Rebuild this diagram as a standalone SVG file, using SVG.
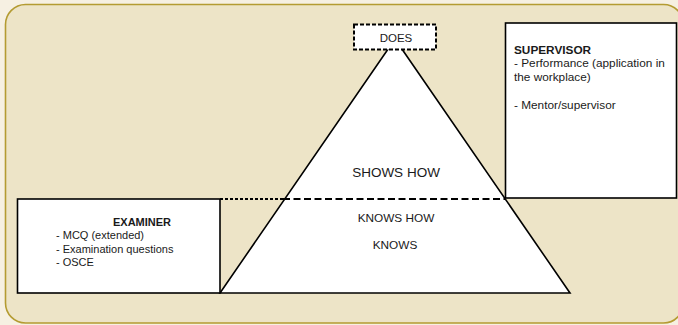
<svg xmlns="http://www.w3.org/2000/svg" width="678" height="325" viewBox="0 0 678 325">
  <style>
    text { font-family: "Liberation Sans", Arial, sans-serif; fill: #1a1a1a; }
    .box { fill: #ffffff; stroke: #000000; stroke-width: 1.6; }
    .b { font-weight: bold; }
    .lvl { text-anchor: middle; }
  </style>
  <rect x="0" y="0" width="678" height="325" fill="#f6f0e2"/>
  <rect id="frame" x="5.5" y="4.5" width="678" height="318.5" rx="20" ry="20" fill="#ede4c7" stroke="#b49b32" stroke-width="1.6"/>

  <g id="pyramid">
    <polygon points="395,39 220,293 570,293" fill="#ffffff" stroke="#000000" stroke-width="1.6" stroke-linejoin="miter"/>
    <text class="lvl" x="396" y="177" font-size="13.5">SHOWS HOW</text>
    <text class="lvl" x="396" y="222" font-size="11.8">KNOWS HOW</text>
    <text class="lvl" x="395" y="249" font-size="11.8">KNOWS</text>
  </g>

  <g id="connectors" fill="none" stroke="#000000" stroke-width="2">
    <line x1="220" y1="199" x2="283" y2="199" stroke-dasharray="3,2"/>
    <line x1="283" y1="199" x2="505" y2="199" stroke-dasharray="7,3.5"/>
  </g>

  <g id="does">
    <rect x="354" y="24.5" width="82" height="25" fill="#ffffff" stroke="#000000" stroke-width="2" stroke-dasharray="4,2"/>
    <text class="lvl" x="396" y="42" font-size="11.5">DOES</text>
  </g>

  <g id="examiner">
    <rect class="box" x="17.5" y="199" width="202.5" height="94"/>
    <text class="b" x="113" y="225.5" font-size="11">EXAMINER</text>
    <text x="56" y="239" font-size="11">- MCQ (extended)</text>
    <text x="56" y="252.5" font-size="11">- Examination questions</text>
    <text x="56" y="265.5" font-size="11">- OSCE</text>
  </g>

  <g id="supervisor">
    <rect class="box" x="505.5" y="23" width="171" height="175"/>
    <text class="b" x="514" y="53.5" font-size="11.8">SUPERVISOR</text>
    <text x="514" y="67" font-size="11.8">- Performance (application in</text>
    <text x="514" y="81" font-size="11.8">the workplace)</text>
    <text x="514" y="108.5" font-size="11.8">- Mentor/supervisor</text>
  </g>
</svg>
